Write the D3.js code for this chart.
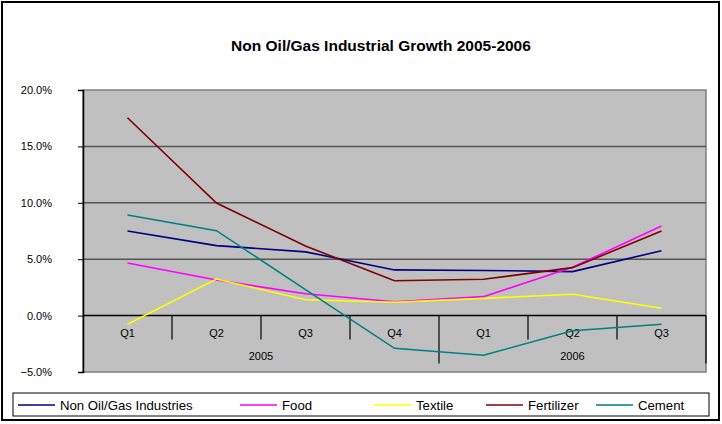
<!DOCTYPE html>
<html>
<head>
<meta charset="utf-8">
<script src="https://cdn.jsdelivr.net/npm/d3@7"></script>
<style>
body { margin:0; background:#fff; }
text { font-family: "Liberation Sans", Arial, sans-serif; }
</style>
</head>
<body>
<div id="chart"></div>
<script>
// categories and years
var quarters = ["Q1","Q2","Q3","Q4","Q1","Q2","Q3"];
var years = [["2005",0,4],["2006",4,7]];
var yTicks = [-0.05,0,0.05,0.10,0.15,0.20];

// series values (fraction)
var nonOilGas = [0.075,0.062,0.0565,0.0405,0.040,0.039,0.0575];
var food = [0.0466,0.0315,0.0194,0.0123,0.0168,0.0428,0.0794];
var textile = [-0.0077,0.0324,0.0141,0.0118,0.0153,0.0189,0.0065];
var fertilizer = [0.1754,0.0998,0.0617,0.0309,0.0322,0.0425,0.075];
var cement = [0.0892,0.0753,0.023,-0.029,-0.0352,-0.0134,-0.0077];

var seriesNames = ["Non Oil/Gas Industries","Food","Textile","Fertilizer","Cement"];
var seriesData = [nonOilGas, food, textile, fertilizer, cement];
var seriesColors = ["#000080","#ff00ff","#ffff00","#800000","#008080"];

var W = 722, H = 424;
// plot area edges
var pLeft = 83, pRight = 706, pTop = 90, pBottom = 372;

var svg = d3.select("#chart").append("svg").attr("width", W).attr("height", H);

// outer frame
svg.append("rect").attr("x",2).attr("y",2).attr("width",717).attr("height",418)
    .attr("fill","#fff").attr("stroke","#000").attr("stroke-width",2);

// title
svg.append("text").text("Non Oil/Gas Industrial Growth 2005-2006")
    .attr("x",381).attr("y",51).attr("text-anchor","middle")
    .attr("font-size","15.5px").attr("font-weight","bold");

var x = d3.scaleBand().domain(d3.range(quarters.length)).range([pLeft,pRight]);
var y = d3.scaleLinear().domain([-0.05,0.20]).range([pBottom,pTop]);

// plot area
svg.append("rect").attr("x",pLeft).attr("y",pTop).attr("width",pRight-pLeft).attr("height",pBottom-pTop)
    .attr("fill","#c0c0c0").attr("stroke","#808080").attr("stroke-width",1.5);

// gridlines
svg.append("g").selectAll("line").data(yTicks.filter(d => d > -0.05 && d < 0.20)).enter().append("line")
    .attr("x1",pLeft).attr("x2",pRight)
    .attr("y1",d => y(d)).attr("y2",d => y(d))
    .attr("stroke",d => d == 0 ? "#000" : "#555").attr("stroke-width",1.5);

// y axis
var yAxis = svg.append("g").attr("transform","translate("+pLeft+",0)")
    .call(d3.axisLeft(y).tickValues(yTicks).tickFormat(d3.format(".1%")).tickSize(5).tickPadding(26));
yAxis.select(".domain").attr("stroke","#000").attr("stroke-width",1.5);
yAxis.selectAll(".tick line").attr("stroke","#000");
yAxis.selectAll("text").attr("font-size","11px").attr("fill","#000")
    .style("font-family","'Liberation Sans', Arial, sans-serif");

// category ticks between quarters
var tickPos = d3.range(1,quarters.length+1);
svg.append("g").selectAll("line").data(tickPos).enter().append("line")
    .attr("x1",d => x(d-1)+x.bandwidth()).attr("x2",d => x(d-1)+x.bandwidth())
    .attr("y1",y(0))
    .attr("y2",d => (d == 4 || d == quarters.length) ? y(0)+48 : y(0)+24)
    .attr("stroke","#000").attr("stroke-width",1.2);

// quarter labels
svg.append("g").selectAll("text").data(quarters).enter().append("text")
    .text(d => d)
    .attr("x",(d,i) => x(i)+x.bandwidth()/2).attr("y",y(0)+21)
    .attr("text-anchor","middle").attr("font-size","11px");

// year labels
svg.append("g").selectAll("text").data(years).enter().append("text")
    .text(d => d[0])
    .attr("x",d => (x(d[1]) + x(d[2]-1)+x.bandwidth())/2).attr("y",y(0)+44)
    .attr("text-anchor","middle").attr("font-size","11px");

// lines
var line = d3.line().x((d,i) => x(i)+x.bandwidth()/2).y(d => y(d));
svg.append("g").selectAll("path").data(seriesData).enter().append("path")
    .attr("d",d => line(d)).attr("fill","none")
    .attr("stroke",(d,i) => seriesColors[i]).attr("stroke-width",1.6);

// legend
svg.append("rect").attr("x",13).attr("y",393).attr("width",696).attr("height",23)
    .attr("fill","#fff").attr("stroke","#000").attr("stroke-width",1);
var legendX = [18,240,374,486,596];
var lg = svg.append("g").selectAll("g").data(seriesNames).enter().append("g")
    .attr("transform",(d,i) => "translate("+legendX[i]+",405)");
lg.append("line").attr("x1",0).attr("x2",37).attr("y1",0).attr("y2",0)
    .attr("stroke",(d,i) => seriesColors[i]).attr("stroke-width",1.6);
lg.append("text").text(d => d).attr("x",42).attr("y",4.5).attr("font-size","13.2px");
</script>
</body>
</html>
